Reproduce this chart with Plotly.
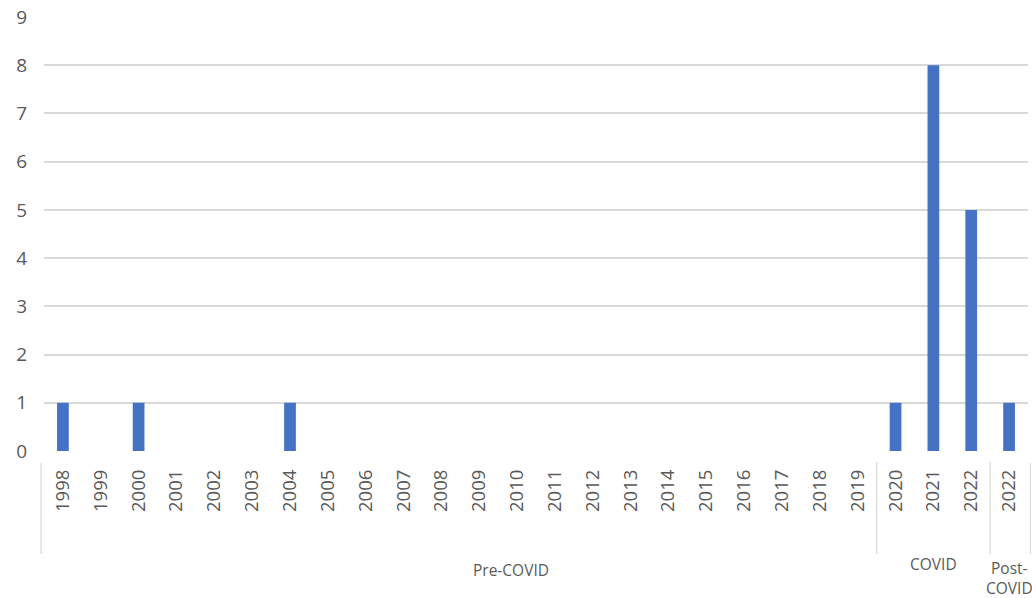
import plotly.graph_objects as go

# Year categories grouped by pandemic period
groups = ["Pre-COVID", "COVID", "Post-COVID"]
group_years = [
    [str(y) for y in range(1998, 2020)],
    ["2020", "2021", "2022"],
    ["2022"],
]
# Counts per year, in the same order as the categories above
counts = [
    1, 0, 1, 0, 0, 0, 1, 0, 0, 0, 0, 0, 0, 0, 0, 0, 0, 0, 0, 0, 0, 0,
    1, 8, 5,
    1,
]
y_ticks = list(range(0, 10))

# Unique category keys so the duplicate "2022" stays separate
keys, labels = [], []
for g, yrs in zip(groups, group_years):
    for yr in yrs:
        keys.append(f"{g}|{yr}")
        labels.append(yr)

TEXT = "#595959"
GRID = "#d9d9d9"
FONT = "Open Sans"

fig = go.Figure(
    go.Bar(x=keys, y=counts, marker=dict(color="#4472C4", line=dict(width=0)))
)

fig.update_layout(
    width=1032,
    height=598,
    margin=dict(l=44, r=4, t=17, b=147),
    paper_bgcolor="white",
    plot_bgcolor="white",
    bargap=0.69,
    showlegend=False,
    font=dict(family=FONT, color=TEXT),
)

fig.update_xaxes(
    type="category",
    tickmode="array",
    tickvals=keys,
    ticktext=labels,
    tickangle=-90,
    tickfont=dict(size=18.5, color=TEXT, family=FONT),
    showgrid=False,
    showline=False,
    zeroline=False,
    ticks="",
    ticklabelstandoff=14,
    range=[-0.5, len(keys) - 0.5],
)

fig.update_yaxes(
    range=[0, 9],
    tickmode="array",
    tickvals=y_ticks,
    tickfont=dict(size=19, color=TEXT, family=FONT),
    showgrid=True,
    gridcolor=GRID,
    gridwidth=2,
    zeroline=False,
    showline=False,
    ticks="",
    ticklabelstandoff=16,
)

# Group dividers below the axis
def yp(px):
    # pixel row -> paper coordinate of the plot area (t=17, bottom at 451)
    return (451 - px) / 434.0

divider_style = dict(color=GRID, width=1.2)
shapes = []
# inner boundaries between groups, in category units
idx = 0
for yrs in group_years[:-1]:
    idx += len(yrs)
    shapes.append(dict(
        type="line", xref="x", yref="paper",
        x0=idx - 0.5, x1=idx - 0.5, y0=yp(462), y1=yp(554),
        line=divider_style,
    ))
# outer edges of the category band
for xe in (-0.003, 1.0025):
    shapes.append(dict(
        type="line", xref="paper", yref="paper",
        x0=xe, x1=xe, y0=yp(463), y1=yp(554),
        line=divider_style,
    ))
fig.update_layout(shapes=shapes)

# Group labels
group_label_x = [11.84, 23, 25]
group_label_y = [yp(570), yp(564), yp(578)]
group_text = ["Pre-COVID", "COVID", "Post-<br>COVID"]
for gx, gy, gt in zip(group_label_x, group_label_y, group_text):
    fig.add_annotation(
        x=gx, y=gy, xref="x", yref="paper",
        text=gt, showarrow=False,
        font=dict(size=15.5, color=TEXT, family=FONT),
        xanchor="center", yanchor="middle", align="center",
    )

fig.write_html("out.html")
